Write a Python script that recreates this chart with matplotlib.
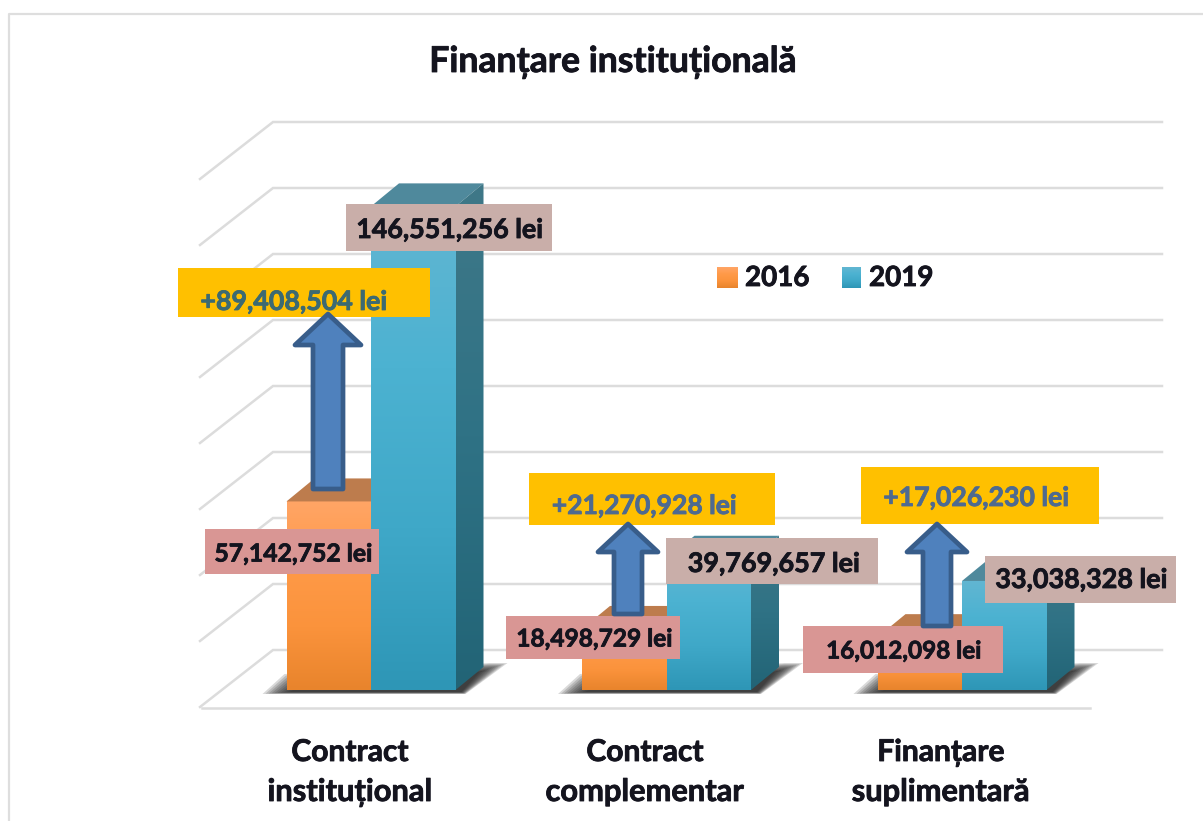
#!/usr/bin/env python3
"""Finanțare instituțională: pseudo-3D clustered columns, 2016 vs 2019."""

import matplotlib

matplotlib.use("Agg")
import matplotlib.patheffects as pe
import matplotlib.pyplot as plt
import numpy as np
from matplotlib.colors import LinearSegmentedColormap
from matplotlib.patches import Polygon, Rectangle
from matplotlib.transforms import Affine2D

CATEGORIES = [["Contract", "instituțional"], ["Contract", "complementar"], ["Finanțare", "suplimentară"]]
VALUES_2016 = [57142752, 18498729, 16012098]
VALUES_2019 = [146551256, 39769657, 33038328]
LABELS_2016 = ["57,142,752 lei", "18,498,729 lei", "16,012,098 lei"]
LABELS_2019 = ["146,551,256 lei", "39,769,657 lei", "33,038,328 lei"]
LABELS_DIFF = ["+89,408,504 lei", "+21,270,928 lei", "+17,026,230 lei"]
GRID_VALUES = [0, 20e6, 40e6, 60e6, 80e6, 100e6, 120e6, 140e6, 160e6]
SERIES_NAMES = ["2016", "2019"]

W, H = 1203, 821
PX_PER_LEI = 3.3e-6
PX_PER_CAT = 295.5
BASE_PX, CAT0_PX = 690, 371
BAR_W = 84.5 / PX_PER_CAT
DEPTH_X, DEPTH_Y = 28 / PX_PER_CAT, 23 / PX_PER_LEI
FONT = ["Lato", "DejaVu Sans"]

ORANGE = LinearSegmentedColormap.from_list("o", ["#FFA566", "#FF9A48", "#FB933C", "#E8842C"])
BLUE = LinearSegmentedColormap.from_list("b", ["#62B6D2", "#4CB2D1", "#3FA8C8", "#2E96B6"])
BLUE_SIDE = LinearSegmentedColormap.from_list("bs", ["#3F7888", "#2F7285", "#226476"])

fig = plt.figure(figsize=(W / 100, H / 100), dpi=100)
ax = fig.add_axes([0, 0, 1, 1])
ax.set_axis_off()
px = Affine2D().scale(1, -1).translate(0, H)


def gradient_poly(verts, cmap, zorder):
    verts = np.array(verts)
    poly = Polygon(verts, closed=True, facecolor="none", edgecolor="none", zorder=zorder)
    ax.add_patch(poly)
    extent = (verts[:, 0].min(), verts[:, 0].max(), verts[:, 1].min(), verts[:, 1].max())
    im = ax.imshow(np.linspace(0, 1, 256)[:, None], cmap=cmap, extent=extent, origin="upper",
                   aspect="auto", zorder=zorder, vmin=0, vmax=1)
    im.set_clip_path(poly)


def column(x, value, cmap, top_color, side_cmap, zorder):
    bar = ax.bar(x, value, width=BAR_W, align="edge", color="none", zorder=zorder)[0]
    gradient_poly(
        [(x, 0), (x + BAR_W, 0), (x + BAR_W, value), (x, value)], cmap, zorder
    )
    ax.add_patch(Polygon(
        [(x, value), (x + DEPTH_X, value + DEPTH_Y), (x + BAR_W + DEPTH_X, value + DEPTH_Y), (x + BAR_W, value)],
        facecolor=top_color, edgecolor="none", zorder=zorder))
    if side_cmap is not None:
        gradient_poly(
            [(x + BAR_W, 0), (x + BAR_W + DEPTH_X, DEPTH_Y), (x + BAR_W + DEPTH_X, value + DEPTH_Y), (x + BAR_W, value)],
            side_cmap, zorder)
    return bar


def box(x0, y0, x1, y1, color, zorder=6):
    ax.add_patch(Rectangle((x0, y0), x1 - x0, y1 - y0, facecolor=color, edgecolor="none",
                           transform=px, zorder=zorder))


def label(x, y, text, color="#14141E", size=19.3, ha="center", zorder=7):
    ax.text(x, y + 1, text, transform=px, ha=ha, va="center", fontsize=size, fontweight="bold",
            color=color, family=FONT, zorder=zorder,
            path_effects=[pe.withStroke(linewidth=0.6, foreground=color)])


def arrow(xc, tip, neck, bottom, head_half, shaft_half):
    pts = [(xc, tip), (xc + head_half, neck), (xc + shaft_half, neck), (xc + shaft_half, bottom),
           (xc - shaft_half, bottom), (xc - shaft_half, neck), (xc - head_half, neck)]
    ax.add_patch(Polygon(pts, closed=True, facecolor="#4F81BD", edgecolor="#385D8A", linewidth=3.4,
                         joinstyle="round", transform=px, zorder=8))


# frame
ax.plot([9, 9, W], [H, 14, 14], color="#DEDEDE", lw=1.6, transform=px, zorder=1)

# walls and floor
for v in GRID_VALUES:
    y = 650 - v * PX_PER_LEI
    ax.plot([200, 273, 1162], [y + 57, y, y], color="#DCDCDC", lw=1.8, transform=px, zorder=1,
            solid_joinstyle="miter")
ax.plot([202, 1090], [707.5, 707.5], color="#DCDCDC", lw=1.8, transform=px, zorder=1)

# columns with their floor shadow
for i in range(len(CATEGORIES)):
    left = CAT0_PX + PX_PER_CAT * i - 84.5
    right = left + 2 * 84.5
    for k in range(10):
        s = k * 1.5
        ax.add_patch(Polygon(
            [(left - 24 + s * 2, 694 - s * 0.15), (left - 2 + s, 674 + s), (right + 34, 663 + s * 0.6),
             (right + 52 - s * 2, 663 + s * 0.6), (right + 10 - s * 0.3, 694 - s * 0.15)],
            closed=True, facecolor="#1E1E1E", edgecolor="none", alpha=0.17, transform=px, zorder=2))
    column(i - BAR_W, VALUES_2016[i], ORANGE, "#BD7C4D", None, 3)
    column(i, VALUES_2019[i], BLUE, "#4F899C", BLUE_SIDE, 4)

# value and difference labels
box(205, 529, 379, 574, "#D99694")
label(293.5, 553, LABELS_2016[0], size=17.8)
box(506, 616, 680, 659, "#D99694")
label(594, 638, LABELS_2016[1], size=17.6)
box(803, 626, 1003, 673, "#D99694")
label(903.5, 650, LABELS_2016[2], size=17.5)
box(346, 204, 552, 251, "#C9AEA9")
label(449.5, 229, LABELS_2019[0])
box(666, 538, 878, 584, "#C9AEA9")
label(773.5, 563, LABELS_2019[1], size=19.4)
box(985, 556, 1176, 603, "#C9AEA9")
label(1081, 579, LABELS_2019[2], size=19.4)
box(178, 268, 430, 317, "#FFC000")
label(293.5, 301, LABELS_DIFF[0], color="#3C6A72")
box(529, 473, 775, 525, "#FFC000")
label(644, 505, LABELS_DIFF[1], color="#4E6A90", size=19.1)
box(861, 467, 1099, 524, "#FFC000")
label(976, 497, LABELS_DIFF[2], color="#4E6A90", size=19.2)

arrow(328, 314, 345, 489, 33, 15)
arrow(628, 524, 552, 614, 30, 14)
arrow(937, 524, 552, 626, 30, 14)

# legend
gradient_box = [(717, 267, 738, 288, ORANGE), (842, 267, 861, 288, BLUE)]
for x0, y0, x1, y1, cmap in gradient_box:
    ax.imshow(np.linspace(0, 1, 64)[:, None], cmap=cmap, vmin=0, vmax=1, aspect="auto", zorder=5,
              extent=((x0 - CAT0_PX) / PX_PER_CAT, (x1 - CAT0_PX) / PX_PER_CAT,
                      (BASE_PX - y1) / PX_PER_LEI, (BASE_PX - y0) / PX_PER_LEI))
label(745, 277, SERIES_NAMES[0], size=20, ha="left")
label(869, 277, SERIES_NAMES[1], size=20, ha="left")

# category labels and title
for xc, lines in zip([350, 645, 941], CATEGORIES):
    label(xc, 751, lines[0], size=21.6)
    label(xc, 791, lines[1], size=22.2)
label(613, 61, "Finanțare instituțională", size=25.6)

ax.set_xlim(-CAT0_PX / PX_PER_CAT, (W - CAT0_PX) / PX_PER_CAT)
ax.set_ylim((BASE_PX - H) / PX_PER_LEI, BASE_PX / PX_PER_LEI)
fig.savefig("out.png", dpi=100)
